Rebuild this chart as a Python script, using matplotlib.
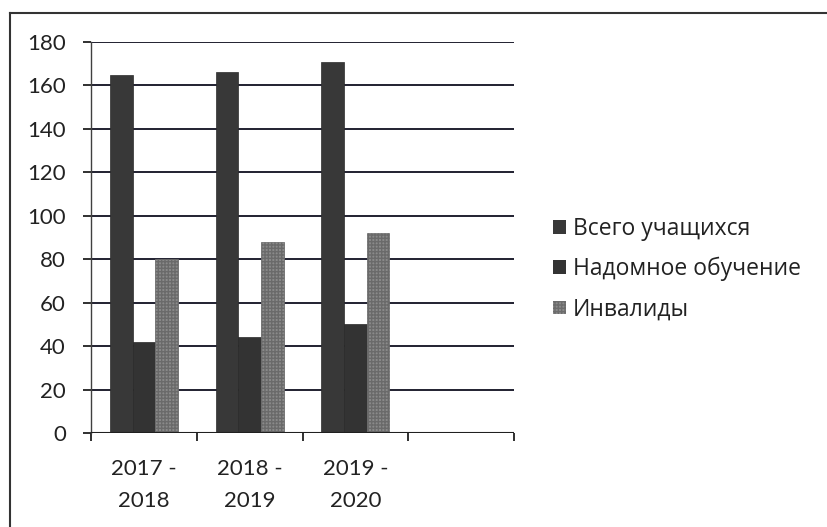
import numpy as np
import matplotlib.pyplot as plt
from matplotlib.lines import Line2D
from matplotlib.patches import Patch

plt.rcParams['font.family'] = ['Lato', 'Open Sans', 'DejaVu Sans']
plt.rcParams['hatch.color'] = '#6c6c6c'

years = ["2017 -\n2018", "2018 -\n2019", "2019 -\n2020", ""]
series = ["Всего учащихся", "Надомное обучение", "Инвалиды"]
total = [165, 166, 171]
home = [42, 44, 50]
disabled = [80, 88, 92]

fig = plt.figure(figsize=(8.28, 5.27), dpi=100)
ax = fig.add_axes([91/828, 1-433/527, (514-91)/828, (433-42)/527])

x = np.arange(len(years))
w = 0.215
ax.bar(x[:3]-w, total, w, color='#383838', edgecolor='#2c2c2c', lw=0.5, zorder=3)
ax.bar(x[:3], home, w, color='#333333', edgecolor='#282828', lw=0.5, zorder=3)
ax.bar(x[:3]+w, disabled, w, color='#8a8a8a', edgecolor='#6a6a6a', lw=0.5,
       hatch='+++++', zorder=3)

ax.set_xlim(-0.5, 3.5)
ax.set_ylim(0, 180)
ax.set_yticks(range(0, 181, 20))
ax.yaxis.grid(True, color='#202030', lw=1.4, zorder=1)
ax.set_axisbelow(True)
for s in ['top', 'right', 'bottom']:
    ax.spines[s].set_visible(False)
ax.spines['left'].set_color('#404040')
ax.spines['left'].set_linewidth(1.0)
ax.axhline(0, color='#202020', lw=1.5, zorder=4)

ax.set_xticks(np.arange(-0.5, 4.0, 1.0))
ax.set_xticklabels([])
ax.set_xticks(x, years, minor=True)
ax.tick_params(axis='x', which='major', length=6, width=1.3, color='#202020')
ax.tick_params(axis='x', which='minor', length=0, labelsize=16, pad=18.5,
               labelcolor='#222222')
ax.tick_params(axis='y', length=6, width=1.3, color='#202020', labelsize=16,
               pad=12, labelcolor='#222222')
for t in ax.get_xticklabels(minor=True):
    t.set_linespacing(1.78)

handles = [Patch(facecolor='#383838'), Patch(facecolor='#333333'),
           Patch(facecolor='#8a8a8a', hatch='+++++', edgecolor='#6c6c6c', lw=0)]
fig.legend(handles, series, loc='center left', bbox_to_anchor=(0.643, 0.489),
           frameon=False, prop={'family': 'Open Sans', 'size': 16.5},
           handlelength=0.56, handleheight=0.55, handletextpad=0.32,
           labelspacing=0.7, labelcolor='#222222')

fig.add_artist(Line2D([10/828, 1.0], [1-13/527, 1-13/527], color='#333333',
                      lw=1.5, transform=fig.transFigure))
fig.add_artist(Line2D([10/828, 10/828], [0, 1-13/527], color='#333333',
                      lw=1.5, transform=fig.transFigure))

fig.savefig('out.png', dpi=100)
